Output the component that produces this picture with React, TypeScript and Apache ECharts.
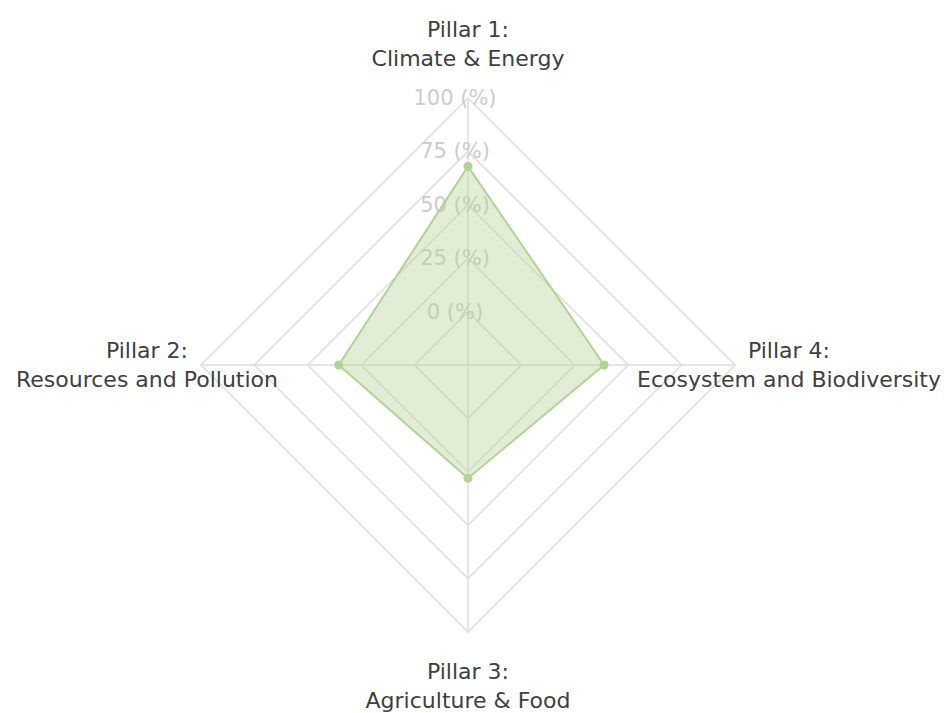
import React, { useEffect, useRef } from "react";
import * as echarts from "echarts";

const indicatorNames = [
  "Pillar 1:\nClimate & Energy",
  "Pillar 2:\nResources and Pollution",
  "Pillar 3:\nAgriculture & Food",
  "Pillar 4:\nEcosystem and Biodiversity",
];
const scoreValues = [68, 35.5, 28, 38.7];
const axisMin = -25;
const axisMax = 100;

export default function App() {
  const ref = useRef<HTMLDivElement>(null);
  useEffect(() => {
    document.body.style.margin = "0";
    const chart = echarts.init(ref.current!, null, { renderer: "svg" });
    const gridColor = "#dedede";
    chart.setOption({
      animation: false,
      backgroundColor: "#ffffff",
      radar: {
        center: [468, 365],
        radius: 267,
        startAngle: 90,
        splitNumber: 5,
        shape: "polygon",
        nameGap: 54,
        axisName: {
          color: "#404040",
          fontFamily: "DejaVu Sans",
          fontSize: 22,
          lineHeight: 29,
          align: "center",
          verticalAlign: "middle",
        },
        splitLine: { lineStyle: { color: gridColor, width: 1.5 } },
        splitArea: { show: false },
        axisLine: { lineStyle: { color: gridColor, width: 1.5 } },
        indicator: indicatorNames.map((n, i) => ({
          name: n,
          min: axisMin,
          max: axisMax,
          ...(i === 0
            ? {
                axisLabel: {
                  show: true,
                  color: "#cccccc",
                  fontFamily: "DejaVu Sans",
                  fontSize: 21,
                  margin: 0,
                  align: "center",
                  verticalAlign: "middle",
                  padding: [0, 26, 0, 0],
                  showMinLabel: false,
                  formatter: (v: number) => (v < 0 ? "" : `${v} (%)`),
                },
              }
            : {}),
        })),
      },
      series: [
        {
          type: "radar",
          symbol: "circle",
          symbolSize: 9,
          itemStyle: { color: "#b3d395" },
          lineStyle: { color: "#b3d395", width: 2 },
          areaStyle: { color: "#b3d395", opacity: 0.4 },
          data: [{ value: scoreValues, name: "Score" }],
        },
      ],
    });
    return () => chart.dispose();
  }, []);
  return <div ref={ref} style={{ width: 950, height: 713 }} />;
}
